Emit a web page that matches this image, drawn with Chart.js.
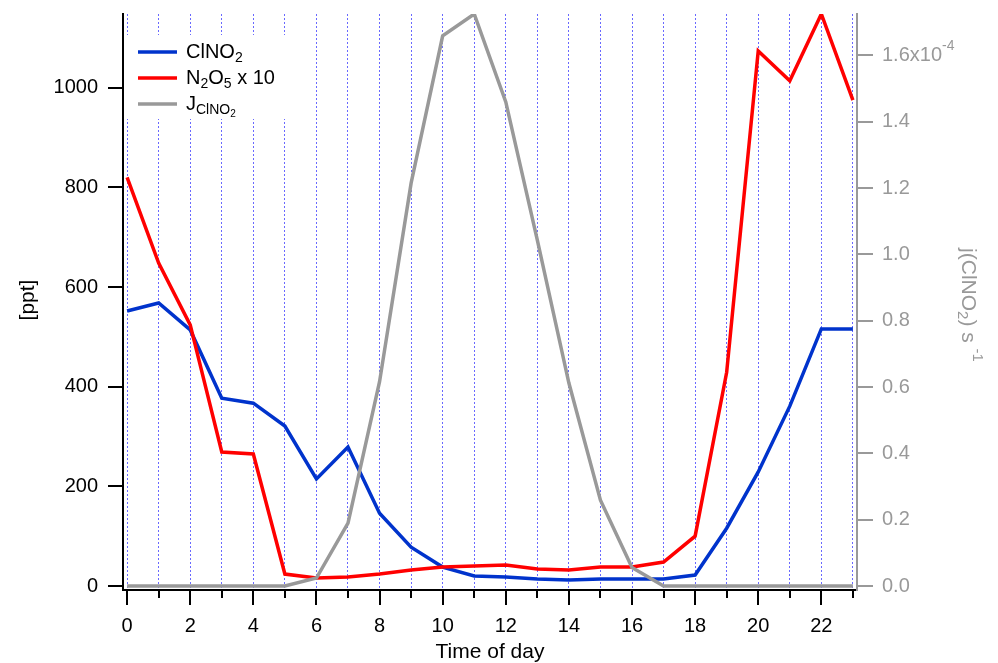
<!DOCTYPE html>
<html>
<head>
<meta charset="utf-8">
<script src="https://cdn.jsdelivr.net/npm/chart.js@4.4.1/dist/chart.umd.min.js"></script>
<style>
    html, body { margin: 0; padding: 0; background: #fff; }
    #wrap { width: 998px; height: 663px; }
</style>
</head>
<body>
<div id="wrap"><canvas id="diurnalChart" width="998" height="663"></canvas></div>
<script>
// Soatlar (0..23)
const hours = [0, 1, 2, 3, 4, 5, 6, 7, 8, 9, 10, 11, 12, 13, 14, 15, 16, 17, 18, 19, 20, 21, 22, 23];

// ClNO2 [ppt]
const clno2 = [552, 568, 514, 377, 367, 321, 215, 279, 146, 78, 38, 20, 18, 14, 12, 14, 14, 14, 22, 116, 229, 361, 516, 516];

// N2O5 x 10 [ppt]
const n2o5x10 = [820, 648, 524, 269, 265, 24, 16, 18, 24, 32, 38, 40, 42, 34, 32, 38, 38, 48, 100, 429, 1074, 1014, 1148, 975];

// j(ClNO2) [s-1]
const jClno2 = [0, 0, 0, 0, 0, 0, 0.024e-4, 0.19e-4, 0.616e-4, 1.215e-4, 1.659e-4, 1.725e-4, 1.46e-4, 1.043e-4, 0.612e-4, 0.259e-4, 0.056e-4, 0, 0, 0, 0, 0, 0, 0];

// O'q belgilari
const leftTicks = [0, 200, 400, 600, 800, 1000];
const rightTicks = [0, 0.2e-4, 0.4e-4, 0.6e-4, 0.8e-4, 1.0e-4, 1.2e-4, 1.4e-4, 1.6e-4];

const FONT = '"Liberation Sans", Arial, Helvetica, sans-serif';
const BLUE = '#0033cc';
const RED = '#ff0000';
const GRAY = '#999999';

/**
 * Pastki/yuqori indeksli matnni chizish
 */
function richWidth(ctx, parts) {
    let w = 0;
    parts.forEach(p => {
        ctx.font = p.size + 'px ' + FONT;
        w += ctx.measureText(p.t).width;
    });
    return w;
}

function drawRich(ctx, x, y, parts, color) {
    ctx.fillStyle = color;
    ctx.textBaseline = 'middle';
    ctx.textAlign = 'left';
    parts.forEach(p => {
        ctx.font = p.size + 'px ' + FONT;
        ctx.fillText(p.t, x, y + (p.dy || 0));
        x += ctx.measureText(p.t).width;
    });
}

function noPad(scale) {
    scale.paddingTop = 0;
    scale.paddingBottom = 0;
    scale.paddingLeft = 0;
    scale.paddingRight = 0;
}

const decorPlugin = {
    id: 'decor',
    beforeDatasetsDraw(chart) {
        // Legenda foni
        const ctx = chart.ctx;
        ctx.save();
        ctx.fillStyle = '#ffffff';
        ctx.fillRect(126, 35, 172, 84);
        ctx.restore();
    },
    afterDraw(chart) {
        const ctx = chart.ctx;
        const xs = chart.scales.x;
        const yl = chart.scales.y;
        const yr = chart.scales.yR;
        const area = chart.chartArea;
        ctx.save();

        // Pastki o'q belgilari
        ctx.lineWidth = 2;
        ctx.strokeStyle = '#000';
        hours.forEach(h => {
            const px = Math.round(xs.getPixelForValue(h));
            const len = h % 2 === 0 ? 15 : 8;
            ctx.beginPath();
            ctx.moveTo(px, area.bottom);
            ctx.lineTo(px, area.bottom + len);
            ctx.stroke();
        });

        // Chap o'q belgilari
        leftTicks.forEach(v => {
            const py = Math.round(yl.getPixelForValue(v));
            ctx.beginPath();
            ctx.moveTo(area.left - 15, py);
            ctx.lineTo(area.left, py);
            ctx.stroke();
        });

        // O'ng o'q belgilari
        ctx.strokeStyle = GRAY;
        rightTicks.forEach(v => {
            const py = Math.round(yr.getPixelForValue(v));
            ctx.beginPath();
            ctx.moveTo(area.right, py);
            ctx.lineTo(area.right + 16, py);
            ctx.stroke();
        });

        // 1.6x10^-4 darajasi
        ctx.font = '20px ' + FONT;
        const baseW = ctx.measureText('1.6x10').width;
        const topY = yr.getPixelForValue(rightTicks[rightTicks.length - 1]);
        drawRich(ctx, area.right + 25 + baseW, topY - 9, [{ t: '-4', size: 14 }], GRAY);

        // Legenda
        const legend = [
            { color: BLUE, y: 52, parts: [{ t: 'ClNO', size: 20 }, { t: '2', size: 14, dy: 6 }] },
            { color: RED, y: 78, parts: [{ t: 'N', size: 20 }, { t: '2', size: 14, dy: 6 }, { t: 'O', size: 20 }, { t: '5', size: 14, dy: 6 }, { t: ' x 10', size: 20 }] },
            { color: GRAY, y: 104, parts: [{ t: 'J', size: 20 }, { t: 'ClNO', size: 14, dy: 6 }, { t: '2', size: 10, dy: 10 }] }
        ];
        legend.forEach(item => {
            ctx.strokeStyle = item.color;
            ctx.lineWidth = 3.5;
            ctx.beginPath();
            ctx.moveTo(138, item.y);
            ctx.lineTo(177, item.y);
            ctx.stroke();
            drawRich(ctx, 186, item.y, item.parts, '#000');
        });

        // O'q sarlavhalari
        ctx.fillStyle = '#000';
        ctx.font = '21px ' + FONT;
        ctx.textAlign = 'center';
        ctx.textBaseline = 'middle';
        ctx.fillText('Time of day', (area.left + area.right) / 2, 652);

        ctx.save();
        ctx.translate(28, 300);
        ctx.rotate(-Math.PI / 2);
        ctx.fillText('[ppt]', 0, 0);
        ctx.restore();

        const rParts = [
            { t: 'j(ClNO', size: 21 },
            { t: '2', size: 15, dy: 6 },
            { t: ') s ', size: 21 },
            { t: '-1', size: 15, dy: -9 }
        ];
        const rw = richWidth(ctx, rParts);
        ctx.save();
        ctx.translate(968, 305);
        ctx.rotate(Math.PI / 2);
        drawRich(ctx, -rw / 2, 0, rParts, GRAY);
        ctx.restore();

        ctx.restore();
    }
};

function createDiurnalChart() {
    const ctx = document.getElementById('diurnalChart');

    new Chart(ctx, {
        type: 'line',
        data: {
            datasets: [
                {
                    label: 'ClNO2',
                    data: hours.map((h, i) => ({ x: h, y: clno2[i] })),
                    borderColor: BLUE,
                    yAxisID: 'y',
                    order: 3
                },
                {
                    label: 'N2O5 x 10',
                    data: hours.map((h, i) => ({ x: h, y: n2o5x10[i] })),
                    borderColor: RED,
                    yAxisID: 'y',
                    order: 2
                },
                {
                    label: 'JClNO2',
                    data: hours.map((h, i) => ({ x: h, y: jClno2[i] })),
                    borderColor: GRAY,
                    yAxisID: 'yR',
                    order: 1
                }
            ]
        },
        options: {
            responsive: false,
            animation: false,
            devicePixelRatio: 1,
            layout: { padding: { top: 14, left: 0, right: 0, bottom: 0 } },
            elements: {
                line: { borderWidth: 3.5, tension: 0, fill: false },
                point: { radius: 0 }
            },
            plugins: {
                legend: { display: false },
                tooltip: { enabled: false }
            },
            scales: {
                x: {
                    type: 'linear',
                    min: -0.13,
                    max: 23.13,
                    afterBuildTicks: scale => { scale.ticks = hours.map(v => ({ value: v })); },
                    afterFit: scale => { scale.height = 73; noPad(scale); },
                    grid: {
                        color: 'rgb(105, 105, 255)',
                        lineWidth: 1,
                        drawTicks: false
                    },
                    border: { display: true, color: '#000', width: 2, dash: [2, 2] },
                    ticks: {
                        padding: 24,
                        color: '#000',
                        font: { family: FONT, size: 20 },
                        maxRotation: 0,
                        autoSkip: false,
                        callback: v => (v % 2 === 0 ? String(v) : '')
                    }
                },
                y: {
                    position: 'left',
                    min: -8,
                    max: 1148,
                    afterBuildTicks: scale => { scale.ticks = leftTicks.map(v => ({ value: v })); },
                    afterFit: scale => { scale.width = 123; noPad(scale); },
                    grid: { display: false, drawTicks: false },
                    border: { display: true, color: '#000', width: 2 },
                    ticks: {
                        padding: 25,
                        color: '#000',
                        font: { family: FONT, size: 20 },
                        callback: v => String(v)
                    }
                },
                yR: {
                    position: 'right',
                    min: -0.012e-4,
                    max: 1.725e-4,
                    afterBuildTicks: scale => { scale.ticks = rightTicks.map(v => ({ value: v })); },
                    afterFit: scale => { scale.width = 141; noPad(scale); },
                    grid: { display: false, drawTicks: false },
                    border: { display: true, color: GRAY, width: 2 },
                    ticks: {
                        padding: 25,
                        color: GRAY,
                        font: { family: FONT, size: 20 },
                        callback: v => {
                            const s = (v * 1e4).toFixed(1);
                            return s === '1.6' ? '1.6x10' : s;
                        }
                    }
                }
            }
        },
        plugins: [decorPlugin]
    });
}

createDiurnalChart();
</script>
</body>
</html>
